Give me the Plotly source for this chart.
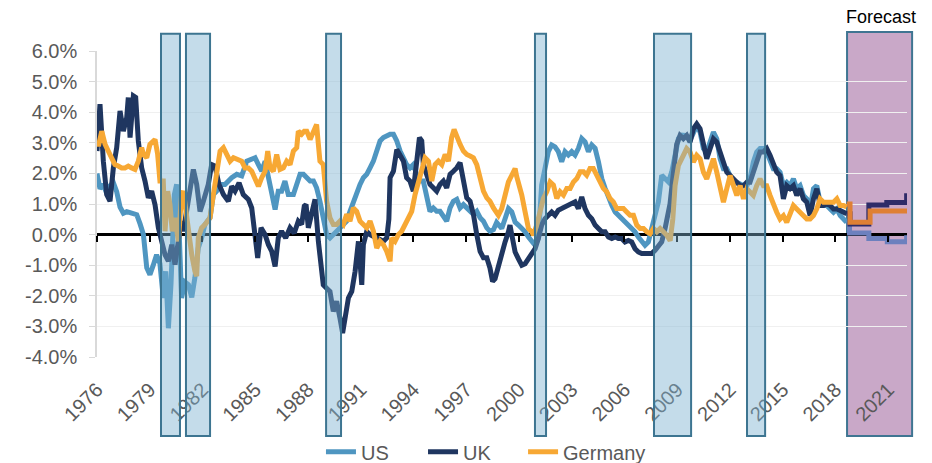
import plotly.graph_objects as go

# ---------------- data ----------------
us_year = [1976.00,1976.17,1976.36,1976.55,1976.74,1976.93,1977.12,1977.31,1977.50,1977.69,1977.88,1978.07,1978.26,1978.45,1978.64,1978.83,1979.01,1979.20,1979.39,1979.58,1979.77,1979.91,1980.06,1980.21,1980.40,1980.53,1980.66,1980.81,1981.00,1981.20,1981.39,1981.57,1981.76,1981.95,1982.14,1982.43,1982.62,1982.81,1983.00,1983.28,1983.47,1983.66,1983.95,1984.23,1984.52,1984.80,1984.99,1985.18,1985.37,1985.56,1985.75,1985.94,1986.13,1986.31,1986.50,1986.69,1986.88,1987.17,1987.36,1987.55,1987.74,1987.93,1988.12,1988.31,1988.49,1988.68,1988.87,1989.06,1989.25,1989.44,1989.63,1989.82,1990.01,1990.20,1990.39,1990.58,1990.77,1990.96,1991.15,1991.34,1991.53,1991.72,1991.91,1992.10,1992.29,1992.48,1992.67,1992.86,1993.05,1993.24,1993.43,1993.61,1993.80,1993.99,1994.18,1994.37,1994.56,1994.75,1994.94,1995.13,1995.32,1995.51,1995.70,1995.89,1996.08,1996.27,1996.46,1996.65,1996.84,1997.03,1997.22,1997.41,1997.60,1997.79,1997.98,1998.17,1998.35,1998.55,1998.73,1998.92,1999.02,1999.21,1999.40,1999.59,1999.78,1999.97,2000.16,2000.35,2000.54,2000.73,2000.92,2001.10,2001.20,2001.29,2001.48,2001.67,2001.86,2002.05,2002.24,2002.43,2002.62,2002.81,2003.00,2003.19,2003.38,2003.57,2003.76,2003.95,2004.14,2004.33,2004.52,2004.71,2004.90,2005.09,2005.28,2005.47,2005.66,2005.84,2006.03,2006.22,2006.41,2006.60,2006.79,2006.98,2007.17,2007.36,2007.55,2007.74,2007.93,2008.12,2008.31,2008.50,2008.69,2008.88,2009.07,2009.26,2009.45,2009.73,2009.92,2010.11,2010.30,2010.49,2010.68,2010.87,2011.06,2011.25,2011.44,2011.63,2011.82,2012.01,2012.20,2012.39,2012.58,2012.77,2012.96,2013.14,2013.33,2013.52,2013.71,2013.90,2014.09,2014.28,2014.47,2014.66,2014.85,2015.04,2015.23,2015.42,2015.61,2015.80,2015.99,2016.18,2016.37,2016.56,2016.75,2016.94,2017.13,2017.32,2017.51,2017.70,2017.89,2018.08,2018.27,2018.46,2018.64]
us_val = [2.00,1.50,1.65,1.35,1.60,1.70,1.40,0.90,0.70,0.75,0.72,0.70,0.65,0.35,0.00,-1.09,-1.31,-1.00,-0.66,-0.95,-2.07,-1.20,-3.06,-1.60,1.31,1.64,0.30,-2.07,-1.55,-1.64,-2.05,-1.40,-0.44,-0.11,0.33,0.55,1.31,1.42,1.64,1.64,1.75,1.86,1.97,1.92,2.40,2.46,2.51,2.29,2.07,2.40,1.86,1.20,0.82,1.42,1.42,1.75,1.31,1.31,1.64,1.97,1.97,1.86,1.75,1.75,1.53,1.09,0.55,0.00,-0.11,0.00,0.11,0.22,0.33,0.44,0.76,1.09,1.42,1.64,1.86,1.97,2.18,2.40,2.73,3.06,3.17,3.22,3.28,3.28,3.06,2.73,2.51,2.29,2.18,2.29,1.97,1.75,1.75,1.20,0.76,0.87,0.76,0.76,0.60,0.44,0.87,1.09,1.15,0.87,0.98,0.87,0.76,0.66,0.76,0.55,0.44,0.22,0.11,0.16,0.40,0.30,0.20,0.52,0.85,0.74,0.41,0.31,0.20,0.09,-0.08,-0.24,-0.35,-0.13,1.07,1.62,2.16,2.71,2.93,2.87,2.71,2.38,2.71,2.60,2.71,2.60,2.82,3.14,3.03,2.71,2.93,2.82,2.38,1.83,1.51,1.18,0.96,0.74,0.63,0.52,0.41,0.31,0.20,0.09,-0.08,-0.24,-0.35,-0.24,0.20,0.52,1.07,1.94,1.83,1.72,2.05,2.71,3.14,3.25,3.24,3.08,3.35,3.57,3.35,2.81,2.70,3.02,3.35,3.13,2.48,2.15,2.15,1.93,1.71,1.71,1.66,1.60,1.60,1.82,2.37,2.70,2.81,2.81,2.70,2.37,2.15,2.15,2.04,1.60,1.71,1.60,1.82,1.50,1.60,1.28,1.17,0.84,1.50,1.60,1.06,0.95,0.95,0.84,0.73,0.84,0.62,0.51,0.40]

uk_year = [1976.00,1976.10,1976.17,1976.36,1976.55,1976.74,1976.93,1977.12,1977.31,1977.50,1977.69,1977.78,1977.88,1978.07,1978.20,1978.35,1978.54,1978.73,1978.92,1979.11,1979.30,1979.49,1979.68,1979.87,1980.06,1980.25,1980.44,1980.63,1980.78,1980.91,1981.10,1981.29,1981.48,1981.67,1981.86,1982.05,1982.33,1982.52,1982.71,1982.94,1983.19,1983.47,1983.66,1983.85,1984.08,1984.32,1984.61,1984.80,1984.99,1985.14,1985.33,1985.56,1985.75,1985.94,1986.13,1986.31,1986.50,1986.73,1986.98,1987.22,1987.45,1987.64,1987.79,1987.89,1988.02,1988.21,1988.40,1988.59,1988.78,1988.87,1989.06,1989.25,1989.44,1989.63,1989.82,1989.97,1990.11,1990.30,1990.49,1990.68,1990.87,1991.06,1991.15,1991.34,1991.53,1991.91,1992.29,1992.48,1992.60,1992.67,1992.86,1993.05,1993.24,1993.43,1993.61,1993.80,1993.99,1994.18,1994.34,1994.47,1994.56,1994.75,1994.94,1995.13,1995.32,1995.51,1995.70,1995.89,1996.08,1996.27,1996.46,1996.65,1996.84,1997.03,1997.22,1997.41,1997.60,1997.79,1997.98,1998.17,1998.35,1998.50,1998.64,1998.83,1999.02,1999.21,1999.40,1999.49,1999.59,1999.78,1999.97,2000.16,2000.35,2000.54,2000.73,2000.92,2001.10,2001.29,2001.48,2001.67,2001.86,2002.05,2002.24,2002.43,2002.62,2002.81,2003.00,2003.19,2003.38,2003.57,2003.76,2003.95,2004.14,2004.33,2004.52,2004.71,2004.90,2005.09,2005.28,2005.47,2005.66,2005.84,2006.03,2006.22,2006.41,2006.60,2006.79,2006.98,2007.17,2007.36,2007.55,2007.74,2007.93,2008.12,2008.31,2008.45,2008.59,2008.78,2008.97,2009.16,2009.35,2009.54,2009.73,2009.92,2010.11,2010.30,2010.49,2010.68,2010.87,2011.06,2011.25,2011.44,2011.63,2011.82,2012.01,2012.20,2012.39,2012.58,2012.77,2012.96,2013.14,2013.33,2013.52,2013.71,2013.90,2014.09,2014.28,2014.47,2014.66,2014.85,2015.04,2015.23,2015.42,2015.61,2015.80,2015.99,2016.18,2016.37,2016.56,2016.75,2016.94,2017.13,2017.32,2017.51,2017.70,2017.89,2018.08,2018.27,2018.46,2018.64]
uk_val = [2.73,4.20,4.26,2.40,1.31,1.09,2.18,2.84,4.04,3.38,3.82,4.48,3.17,4.53,4.48,3.06,2.18,1.75,1.20,1.42,0.98,0.22,-0.22,-0.66,-0.87,-0.33,-0.98,-0.22,0.44,0.11,0.76,1.42,2.13,1.64,0.76,1.09,1.64,2.29,2.24,1.64,1.31,1.09,1.58,1.42,1.69,1.31,1.15,0.87,0.11,-0.76,0.22,0.00,-0.33,-0.55,-1.04,-0.11,0.11,-0.11,0.22,0.05,0.44,0.33,0.93,0.98,0.22,0.66,1.15,-0.22,-1.09,-1.64,-1.75,-1.86,-2.51,-2.18,-2.73,-3.22,-2.73,-2.07,-1.86,-1.20,-0.22,-1.64,-0.33,0.10,0.00,-0.11,-0.22,-0.11,0.50,1.86,2.07,2.78,2.62,2.40,1.86,1.75,1.42,2.40,3.17,3.06,2.29,1.97,1.64,1.53,1.42,1.64,1.75,1.53,1.97,2.07,2.18,2.35,1.75,1.20,1.09,0.66,0.00,-0.55,-0.76,-0.76,-1.09,-1.53,-1.44,-1.00,-0.68,-0.24,0.09,0.31,0.00,-0.57,-0.79,-1.00,-0.95,-0.79,-0.68,-0.46,-0.13,0.31,0.52,0.63,0.74,0.63,0.80,0.85,0.90,0.96,1.01,1.07,0.85,1.23,0.85,0.63,0.52,0.31,0.20,0.09,0.09,-0.08,-0.13,-0.08,-0.13,-0.13,-0.24,-0.19,-0.24,-0.46,-0.57,-0.62,-0.62,-0.62,-0.62,-0.51,-0.35,-0.24,0.20,0.60,1.00,2.00,2.95,3.24,3.13,3.24,3.02,3.46,3.62,3.46,3.02,2.48,2.81,3.13,3.02,2.70,2.26,2.04,1.93,1.82,1.66,1.60,1.60,1.71,1.71,2.04,2.48,2.70,2.70,2.81,2.59,2.26,2.04,1.93,1.17,1.60,1.50,1.60,1.28,1.50,1.17,1.06,0.62,1.17,1.50,0.95,0.95,1.00,0.95,0.84,0.84,0.79,0.73,0.68]

de_year = [1976.00,1976.08,1976.27,1976.46,1976.64,1976.83,1977.02,1977.21,1977.40,1977.59,1977.78,1977.97,1978.16,1978.35,1978.54,1978.64,1978.83,1979.01,1979.30,1979.45,1979.58,1979.77,1979.87,1980.02,1980.15,1980.28,1980.44,1980.63,1980.81,1980.91,1981.04,1981.20,1981.39,1981.57,1981.67,1981.76,1981.95,1982.14,1982.43,1982.62,1982.81,1983.00,1983.19,1983.38,1983.57,1983.76,1984.04,1984.23,1984.42,1984.61,1984.80,1984.99,1985.18,1985.37,1985.56,1985.71,1985.84,1986.03,1986.22,1986.41,1986.60,1986.79,1986.98,1987.17,1987.36,1987.45,1987.64,1987.79,1987.93,1988.12,1988.30,1988.49,1988.59,1988.68,1988.87,1989.06,1989.25,1989.44,1989.63,1989.82,1990.01,1990.20,1990.39,1990.58,1990.77,1990.96,1991.15,1991.34,1991.53,1991.72,1991.91,1992.10,1992.29,1992.48,1992.67,1992.76,1992.95,1993.14,1993.33,1993.52,1993.71,1993.90,1994.09,1994.28,1994.47,1994.66,1994.85,1995.04,1995.23,1995.42,1995.61,1995.80,1995.99,1996.17,1996.31,1996.46,1996.65,1996.84,1997.03,1997.22,1997.41,1997.60,1997.79,1997.98,1998.17,1998.35,1998.55,1998.73,1998.83,1999.02,1999.21,1999.40,1999.59,1999.78,1999.87,1999.97,2000.16,2000.35,2000.54,2000.73,2000.82,2001.01,2001.20,2001.39,2001.58,2001.77,2001.96,2002.15,2002.34,2002.53,2002.72,2002.91,2003.10,2003.29,2003.48,2003.67,2003.85,2004.04,2004.23,2004.42,2004.61,2004.80,2004.99,2005.18,2005.37,2005.56,2005.75,2005.94,2006.13,2006.32,2006.51,2006.70,2006.89,2007.08,2007.27,2007.46,2007.65,2007.84,2008.03,2008.22,2008.41,2008.60,2008.75,2008.88,2009.07,2009.26,2009.54,2009.73,2009.92,2010.11,2010.30,2010.49,2010.68,2010.87,2011.06,2011.25,2011.44,2011.63,2011.82,2012.01,2012.20,2012.39,2012.58,2012.77,2012.96,2013.14,2013.33,2013.52,2013.71,2013.90,2014.09,2014.28,2014.47,2014.66,2014.85,2015.04,2015.23,2015.42,2015.61,2015.80,2015.99,2016.18,2016.37,2016.56,2016.75,2016.94,2017.13,2017.32,2017.51,2017.70,2017.89,2018.08,2018.27,2018.46,2018.64]
de_val = [3.06,2.89,3.38,2.95,2.73,2.51,2.29,2.24,2.18,2.18,2.24,2.18,2.13,2.40,2.84,2.62,2.51,2.95,3.11,2.62,1.75,1.75,0.11,1.42,0.98,0.11,0.55,-0.22,1.31,1.42,0.76,0.22,-0.66,-1.20,-1.36,-0.11,0.22,0.33,0.55,1.31,1.97,2.73,2.84,2.62,2.40,2.51,2.46,2.40,2.18,2.18,2.07,1.86,1.58,1.86,2.07,2.73,2.18,2.07,2.62,2.13,2.18,2.40,2.29,2.73,2.84,3.38,3.28,3.38,3.38,3.11,3.38,3.60,2.95,2.40,2.29,1.09,0.55,0.33,0.33,0.44,0.33,0.66,0.44,0.87,0.76,0.44,0.33,0.22,0.44,0.11,-0.44,-0.22,-0.33,-0.55,-0.87,-0.11,-0.22,0.00,0.11,0.33,0.55,0.76,1.31,1.75,2.18,2.51,2.40,1.75,2.29,2.40,2.29,2.62,2.40,3.17,3.44,3.17,2.95,2.73,2.62,2.57,2.51,2.29,1.86,1.42,1.20,1.09,0.87,0.66,0.63,0.85,1.29,1.72,1.94,2.16,1.90,1.72,1.29,0.74,0.20,0.09,-0.02,0.31,0.74,1.18,1.40,1.72,1.62,1.18,1.40,1.29,1.51,1.51,1.72,1.83,2.05,2.05,1.94,2.16,2.16,1.94,1.72,1.51,1.40,1.18,1.07,0.85,0.85,0.85,0.74,0.63,0.63,0.31,0.20,0.20,0.09,0.03,0.20,0.09,0.20,0.09,-0.02,-0.20,0.51,1.60,2.26,2.48,2.81,2.70,2.37,2.59,2.48,2.04,1.82,2.15,2.48,2.04,1.60,1.06,1.50,1.93,1.60,1.28,1.60,1.17,1.50,1.39,1.28,1.60,1.82,1.60,1.60,1.28,0.95,0.73,0.51,0.62,0.40,0.73,0.95,0.84,0.73,0.62,0.51,0.51,0.62,0.84,1.17,1.06,1.06,1.06,1.06,1.17,0.95,0.95,0.90]

# forecast (step) paths
fc_us_year = [2018.64, 2018.80, 2019.90, 2020.95, 2022.05]
fc_us_val = [0.40, 0.05, -0.13, -0.23, -0.02]
fc_uk_year = [2018.64, 2018.83, 2019.90, 2020.92, 2022.05]
fc_uk_val = [0.68, 0.35, 0.97, 1.05, 1.35]
fc_de_year = [2018.64, 2018.83, 2019.97, 2022.07]
fc_de_val = [1.00, 0.40, 0.77, 0.77]

# recession periods and forecast window
rec_start = [1979.64, 1981.06, 1989.03, 2000.91, 2007.68, 2012.97]
rec_end = [1980.72, 1982.43, 1989.88, 2001.54, 2009.79, 2014.00]
forecast_start, forecast_end = 2018.66, 2022.36

series_names = ["US", "UK", "Germany"]
x_tick_vals = list(range(1976, 2022, 3))
y_tick_vals = list(range(-4, 7))
y_tick_text = [f"{v:.1f}%" for v in y_tick_vals]

# ---------------- figure ----------------
X0, X1 = 1976.0, 2022.07
Y0, Y1 = -4.0, 6.0
FONT = "Liberation Sans, Arial, sans-serif"
GREY = "#595959"
LW = 5
# the page body adds an 8px margin, so the figure is 8px smaller than the window
W, H = 924, 455

def px(year):
    return (year - X0) / (X1 - X0)

fig = go.Figure()
fig.add_trace(go.Scatter(x=us_year, y=us_val, name=series_names[0], mode="lines",
                         legend="legend", line=dict(color="#4F96C1", width=LW)))
fig.add_trace(go.Scatter(x=uk_year, y=uk_val, name=series_names[1], mode="lines",
                         legend="legend2", line=dict(color="#1F3660", width=LW)))
fig.add_trace(go.Scatter(x=de_year, y=de_val, name=series_names[2], mode="lines",
                         legend="legend3", line=dict(color="#F7A834", width=LW)))
fig.add_trace(go.Scatter(x=fc_us_year, y=fc_us_val, mode="lines", showlegend=False,
                         line=dict(color="#6C80BE", width=LW, shape="hv")))
fig.add_trace(go.Scatter(x=fc_uk_year, y=fc_uk_val, mode="lines", showlegend=False,
                         line=dict(color="#2E2B68", width=LW, shape="hv")))
fig.add_trace(go.Scatter(x=fc_de_year, y=fc_de_val, mode="lines", showlegend=False,
                         line=dict(color="#DF8035", width=LW, shape="hv")))
# empty trace so the tick-only axis at the zero line exists
fig.add_trace(go.Scatter(x=[], y=[], xaxis="x2", showlegend=False, hoverinfo="skip"))

shapes = []
for s, e in zip(rec_start, rec_end):
    shapes.append(dict(type="rect", xref="paper", yref="paper",
                       x0=px(s), x1=px(e), y0=-0.258, y1=1.056,
                       fillcolor="rgba(125,178,208,0.45)",
                       line=dict(color="#3D7591", width=2), layer="above"))
shapes.append(dict(type="rect", xref="paper", yref="paper",
                   x0=px(forecast_start), x1=px(forecast_end), y0=-0.258, y1=1.062,
                   fillcolor="#C9A8C8", line=dict(color="#3F7592", width=2),
                   layer="between"))

def leg(xpos):
    return dict(orientation="h", x=xpos, xanchor="left", y=-0.31, yanchor="middle",
                font=dict(family=FONT, size=20, color=GREY), bgcolor="rgba(0,0,0,0)")

fig.update_layout(
    width=W, height=H,
    margin=dict(l=89, r=25, t=43, b=106, autoexpand=False),
    paper_bgcolor="white", plot_bgcolor="white",
    font=dict(family=FONT, size=20, color=GREY),
    showlegend=True,
    legend=leg(0.2765), legend2=leg(0.4025), legend3=leg(0.526),
    shapes=shapes,
    annotations=[dict(text="Forecast", x=px(2020.6), y=(306 + 34) / 306,
                      xref="paper", yref="paper", showarrow=False,
                      font=dict(family=FONT, size=18, color="black"),
                      xanchor="center", yanchor="middle")],
    xaxis=dict(range=[X0, X1], tickmode="array", tickvals=x_tick_vals,
               tickformat="d", tickangle=-45, showgrid=False, zeroline=False,
               showline=False, ticks="outside", ticklen=12, tickcolor="rgba(0,0,0,0)",
               automargin=False,
               tickfont=dict(family=FONT, size=20, color=GREY)),
    xaxis2=dict(range=[X0, X1], overlaying="x", anchor="free", position=0.4,
                tickmode="array", tickvals=x_tick_vals, showticklabels=False,
                ticks="outside", ticklen=6, tickwidth=1.5, tickcolor="black",
                showgrid=False, zeroline=False, showline=False),
    yaxis=dict(range=[Y0, Y1], tickmode="array", tickvals=y_tick_vals, ticktext=y_tick_text,
               showgrid=True, gridcolor="#F0F0F0", gridwidth=1,
               zeroline=True, zerolinecolor="black", zerolinewidth=2.5,
               showline=True, linecolor="#D9D9D9", linewidth=1.5,
               ticks="outside", ticklen=6, tickcolor="#D9D9D9",
               ticklabelstandoff=8, automargin=False,
               tickfont=dict(family=FONT, size=20, color=GREY)),
)

fig.write_html("out.html")
